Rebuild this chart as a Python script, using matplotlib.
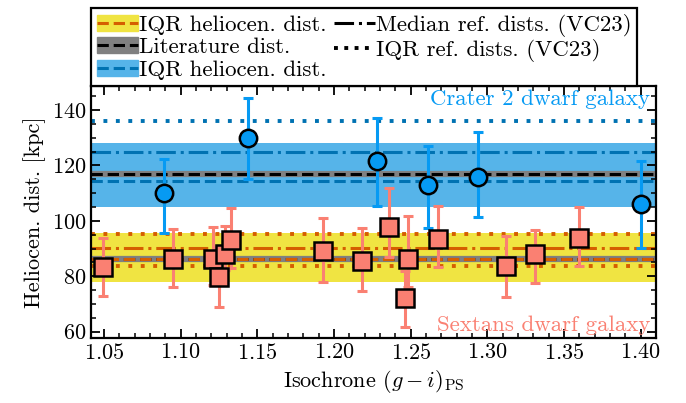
import numpy as np
import matplotlib
matplotlib.use("Agg")
import matplotlib.pyplot as plt
from matplotlib.patches import Patch
from matplotlib.lines import Line2D

plt.rcParams['font.family'] = 'serif'
plt.rcParams['font.serif'] = ['cmr10']
plt.rcParams['mathtext.fontset'] = 'cm'
plt.rcParams['axes.formatter.use_mathtext'] = True
plt.rcParams['font.size'] = 16

# Crater 2 isochrone fits
cr_col = [1.089, 1.144, 1.228, 1.261, 1.294, 1.400]
cr_d = [110.0, 129.8, 121.6, 112.9, 115.7, 106.1]
cr_lo = [95.7, 115.0, 105.4, 97.5, 101.5, 90.3]
cr_hi = [122.5, 144.2, 137.0, 127.0, 132.0, 121.6]

# Sextans isochrone fits
sx_col = [1.049, 1.095, 1.121, 1.125, 1.129, 1.133, 1.193, 1.218, 1.236,
          1.246, 1.248, 1.268, 1.312, 1.331, 1.360]
sx_d = [83.2, 86.1, 86.2, 79.6, 88.0, 93.1, 89.2, 85.5, 97.9,
        72.0, 86.2, 93.5, 83.7, 88.0, 93.7]
sx_lo = [72.9, 76.2, 76.9, 69.0, 82.3, 83.0, 78.0, 74.8, 87.1,
         61.8, 76.0, 83.5, 72.4, 77.7, 83.7]
sx_hi = [93.7, 97.1, 97.9, 90.7, 98.3, 104.7, 100.9, 97.3, 111.7,
         81.9, 101.8, 105.4, 94.5, 96.7, 105.1]

# summary levels [kpc]
cr_iqr = (104.9, 128.2)
cr_med = 114.4
cr_lit = 116.8
cr_ref_med = 124.9
cr_ref_iqr = 135.9

sx_iqr = (78.0, 95.5)
sx_med = 86.3
sx_lit = 86.3
sx_ref_med = 90.3
sx_ref_iqr = (83.7, 95.1)

c_sky = '#56B4E9'
c_dblue = '#0072B2'
c_yel = '#F0E442'
c_orng = '#D55E00'
c_salmon = '#FA8072'
c_blue = '#069AF3'

fig = plt.figure(figsize=(6.86, 4.03), dpi=100)
ax = fig.add_axes([0.1327, 0.1613, 0.8236, 0.6253])

lw = 2.2
# Sextans
ax.axhspan(sx_iqr[0], sx_iqr[1], color=c_yel, lw=0, zorder=0)
ax.axhline(sx_lit, color='gray', lw=4.5, zorder=1)
ax.axhline(sx_lit, color='k', lw=lw, ls='--', zorder=1.1)
ax.axhline(sx_med, color=c_orng, lw=lw, ls='--', zorder=1.2)
ax.axhline(sx_ref_med, color=c_orng, lw=lw, ls='-.', zorder=1.2)
for v in sx_ref_iqr:
    ax.axhline(v, color=c_orng, lw=2.8, ls=(0, (1, 2.2)), zorder=1.2)

# Crater 2
ax.axhspan(cr_iqr[0], cr_iqr[1], color=c_sky, lw=0, zorder=0)
ax.axhline(cr_lit, color='gray', lw=4.5, zorder=1)
ax.axhline(cr_lit, color='k', lw=lw, ls='--', zorder=1.1)
ax.axhline(cr_med, color=c_dblue, lw=lw, ls='--', zorder=1.2)
ax.axhline(cr_ref_med, color=c_dblue, lw=lw, ls='-.', zorder=1.2)
ax.axhline(cr_ref_iqr, color=c_dblue, lw=2.8, ls=(0, (1, 2.2)), zorder=1.2)

sx_err = [np.array(sx_d) - np.array(sx_lo), np.array(sx_hi) - np.array(sx_d)]
ax.errorbar(sx_col, sx_d, yerr=sx_err, fmt='none', ecolor=c_salmon,
            elinewidth=2.2, capsize=3.5, capthick=2.2, zorder=2)
ax.plot(sx_col, sx_d, 's', ms=13.5, mfc=c_salmon, mec='k', mew=1.8, zorder=3)

cr_err = [np.array(cr_d) - np.array(cr_lo), np.array(cr_hi) - np.array(cr_d)]
ax.errorbar(cr_col, cr_d, yerr=cr_err, fmt='none', ecolor=c_blue,
            elinewidth=2.2, capsize=3.5, capthick=2.2, zorder=2)
ax.plot(cr_col, cr_d, 'o', ms=12.5, mfc=c_blue, mec='k', mew=1.8, zorder=3)

ax.text(0.99, 0.985, 'Crater 2 dwarf galaxy', color=c_blue, ha='right',
        va='top', transform=ax.transAxes, fontsize=16.5)
ax.text(0.99, 0.012, 'Sextans dwarf galaxy', color=c_salmon, ha='right',
        va='bottom', transform=ax.transAxes, fontsize=16.5)

ax.set_xlim(1.0415, 1.41)
ax.set_ylim(57.7, 148.7)
ax.set_xticks(np.arange(1.05, 1.401, 0.05))
ax.set_xticks(np.arange(1.05, 1.41, 0.01), minor=True)
ax.set_yticks([60, 80, 100, 120, 140])
ax.set_yticks(np.arange(60, 148, 5), minor=True)
ax.tick_params(which='both', direction='in', top=True, right=True)
ax.tick_params(which='major', length=6.5, width=1.3)
ax.tick_params(which='minor', length=3.5, width=1.1)
for s in ax.spines.values():
    s.set_linewidth(1.6)
ax.set_xlabel(r'Isochrone $(g-i)_{\rm PS}$')
ax.set_ylabel('Heliocen. dist. [kpc]')

handles = [
    (Patch(color=c_yel), Line2D([], [], color=c_orng, ls='--', lw=lw)),
    (Patch(color='gray'), Line2D([], [], color='k', ls='--', lw=lw)),
    (Patch(color=c_sky), Line2D([], [], color=c_dblue, ls='--', lw=lw)),
    Line2D([], [], color='k', ls='-.', lw=lw),
    Line2D([], [], color='k', ls=':', lw=2.8),
]
labels = ['IQR heliocen. dist.', 'Literature dist.', 'IQR heliocen. dist.',
          'Median ref. dists. (VC23)', 'IQR ref. dists. (VC23)']
leg = ax.legend(handles, labels, ncol=2, loc='lower left', bbox_to_anchor=(0, 1),
                borderaxespad=0, fancybox=False, framealpha=1, edgecolor='k',
                handlelength=1.8, handletextpad=0.05, columnspacing=0.3,
                labelspacing=0.12, borderpad=0.25, fontsize=16.5)
leg.get_frame().set_linewidth(1.6)

fig.savefig('out.png', dpi=100)
